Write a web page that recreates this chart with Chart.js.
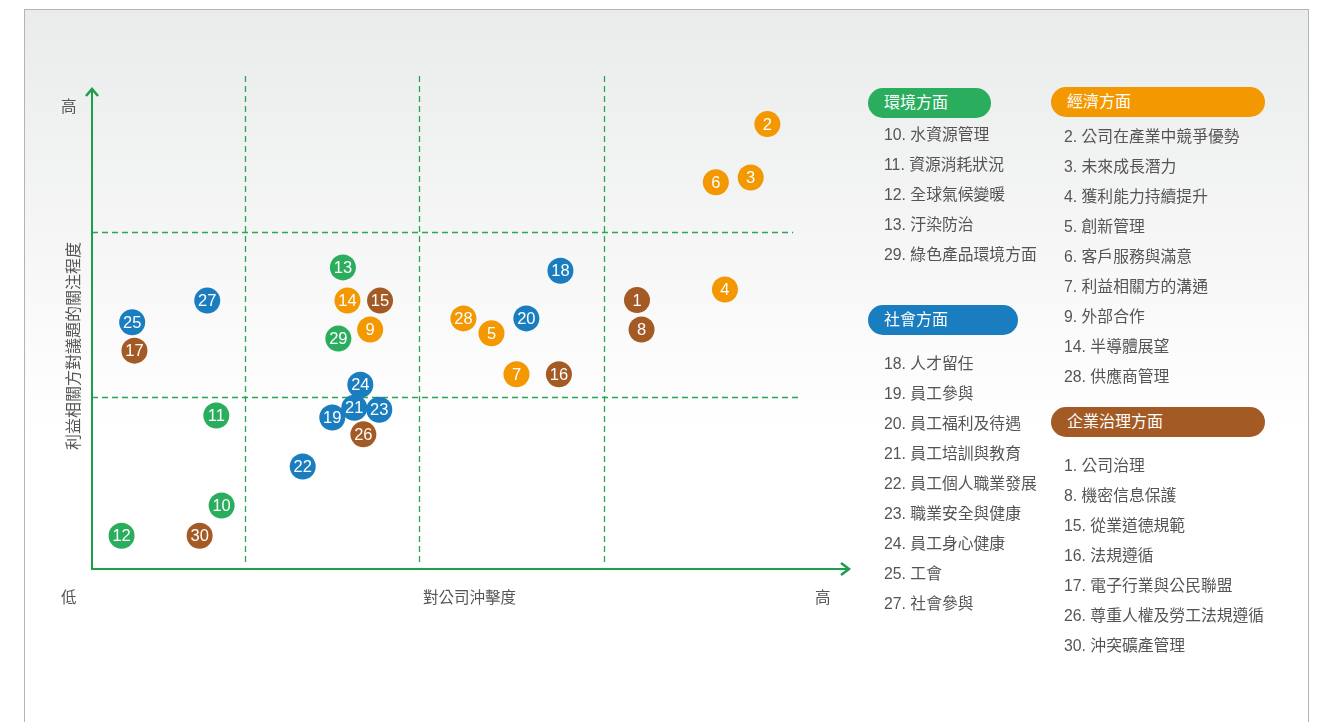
<!DOCTYPE html>
<html>
<head>
<meta charset="utf-8">
<script src="https://cdn.jsdelivr.net/npm/chart.js@4/dist/chart.umd.min.js"></script>
<style>
  body { margin: 0; width: 1322px; height: 722px; overflow: hidden; background: #fff;
         font-family: "Liberation Sans", "Noto Sans CJK TC", sans-serif; }
  #panel { position: absolute; left: 24px; top: 9px; width: 1283px; height: 760px;
           border: 1px solid #b4b4b4; background: linear-gradient(#eaebeb 0, #ffffff 420px); }
  #chart { position: absolute; left: 0; top: 0; }
  .lbl { position: absolute; color: #555; font-size: 15.5px; white-space: nowrap; }
  .pill { position: absolute; height: 30px; border-radius: 15px; color: #fff; font-size: 16px;
          line-height: 30px; padding-left: 16px; box-sizing: border-box; }
  .item { position: absolute; color: #555; font-size: 15.8px; white-space: nowrap; line-height: 18px; }
</style>
</head>
<body>
<div id="panel"></div>
<canvas id="chart" width="1322" height="722"></canvas>
<div id="legend"></div>
<script>
// topic names (numbered issues)
const topicNames = {
    1: '公司治理', 2: '公司在產業中競爭優勢', 3: '未來成長潛力', 4: '獲利能力持續提升',
    5: '創新管理', 6: '客戶服務與滿意', 7: '利益相關方的溝通', 8: '機密信息保護',
    9: '外部合作', 10: '水資源管理', 11: '資源消耗狀況', 12: '全球氣候變暖',
    13: '汙染防治', 14: '半導體展望', 15: '從業道德規範', 16: '法規遵循',
    17: '電子行業與公民聯盟', 18: '人才留任', 19: '員工參與', 20: '員工福利及待遇',
    21: '員工培訓與教育', 22: '員工個人職業發展', 23: '職業安全與健康', 24: '員工身心健康',
    25: '工會', 26: '尊重人權及勞工法規遵循', 27: '社會參與', 28: '供應商管理',
    29: '綠色產品環境方面', 30: '沖突礦產管理'
};

// 環境方面
const envIds = [10, 11, 12, 13, 29];
const envImpact = [17.1, 16.4, 3.9, 33.1, 32.5];
const envConcern = [13.2, 31.9, 6.9, 62.7, 47.9];

// 經濟方面
const econIds = [2, 3, 4, 5, 6, 7, 9, 14, 28];
const econImpact = [89.1, 86.9, 83.5, 52.7, 82.3, 56.0, 36.7, 33.7, 49.0];
const econConcern = [92.5, 81.4, 58.1, 49.0, 80.4, 40.5, 49.8, 55.8, 52.1];

// 社會方面 (listed in drawing order)
const socIds = [18, 19, 20, 22, 24, 25, 27, 21, 23];
const socImpact = [61.8, 31.7, 57.3, 27.8, 35.4, 5.3, 15.2, 34.6, 37.9];
const socConcern = [62.0, 31.5, 52.1, 21.3, 38.3, 51.3, 55.8, 33.5, 33.1];

// 企業治理方面
const govIds = [1, 8, 15, 16, 17, 26, 30];
const govImpact = [71.9, 72.5, 38.0, 61.6, 5.6, 35.8, 14.2];
const govConcern = [55.9, 49.8, 55.8, 40.5, 45.4, 28.0, 6.9];

// quadrant dividers
const xDividers = [20.2, 43.1, 67.5];
const yDividers = [35.8, 70.1];

const colors = { env: '#2aae5e', econ: '#f39800', soc: '#1a7dbf', gov: '#a35a25' };
const axisColor = '#1e9f4c';

function toPoints(ids, xs, ys) {
    return ids.map((id, i) => ({ x: xs[i], y: ys[i], id: id }));
}

// grid + axes behind the points
const quadrantPlugin = {
    id: 'quadrants',
    beforeDatasetsDraw(chart) {
        const { ctx, chartArea: a, scales: { x, y } } = chart;
        ctx.save();
        ctx.strokeStyle = '#2aa556';
        ctx.lineWidth = 1.3;
        ctx.setLineDash([6, 4]);
        xDividers.forEach(v => {
            const px = Math.round(x.getPixelForValue(v)) + 0.5;
            ctx.beginPath();
            ctx.moveTo(px, a.top - 12);
            ctx.lineTo(px, a.bottom - 3);
            ctx.stroke();
        });
        yDividers.forEach((v, i) => {
            const py = Math.round(y.getPixelForValue(v)) + 0.5;
            ctx.beginPath();
            ctx.moveTo(a.left, py);
            ctx.lineTo(x.getPixelForValue(i === 0 ? 93.5 : 92.5), py);
            ctx.stroke();
        });
        ctx.setLineDash([]);

        // axes with arrow heads
        ctx.strokeStyle = axisColor;
        ctx.lineWidth = 2;
        ctx.beginPath();
        ctx.moveTo(a.left, a.top + 1);
        ctx.lineTo(a.left, a.bottom);
        ctx.lineTo(a.right - 1, a.bottom);
        ctx.stroke();
        ctx.lineWidth = 2.5;
        ctx.beginPath();
        ctx.moveTo(a.left - 6, a.top + 8);
        ctx.lineTo(a.left, a.top + 1);
        ctx.lineTo(a.left + 6, a.top + 8);
        ctx.moveTo(a.right - 9, a.bottom - 6);
        ctx.lineTo(a.right - 1, a.bottom);
        ctx.lineTo(a.right - 9, a.bottom + 6);
        ctx.stroke();
        ctx.restore();
    }
};

// number inside every bubble
const numberPlugin = {
    id: 'numbers',
    afterDatasetDraw(chart, args) {
        const { ctx } = chart;
        const meta = args.meta;
        ctx.save();
        ctx.fillStyle = '#fff';
        ctx.font = '16.5px "Liberation Sans", Arial, sans-serif';
        ctx.textAlign = 'center';
        ctx.textBaseline = 'middle';
        meta.data.forEach((el, i) => {
            const d = chart.data.datasets[args.index].data[i];
            ctx.fillText(String(d.id), el.x, el.y + 1);
        });
        ctx.restore();
    }
};

function ds(label, pts, color) {
    return {
        label: label,
        data: pts,
        backgroundColor: color,
        borderColor: color,
        borderWidth: 0,
        pointRadius: 13,
        pointHoverRadius: 13,
        clip: false
    };
}

new Chart(document.getElementById('chart'), {
    type: 'scatter',
    data: {
        datasets: [
            ds('環境方面', toPoints(envIds, envImpact, envConcern), colors.env),
            ds('經濟方面', toPoints(econIds, econImpact, econConcern), colors.econ),
            ds('社會方面', toPoints(socIds, socImpact, socConcern), colors.soc),
            ds('企業治理方面', toPoints(govIds, govImpact, govConcern), colors.gov)
        ]
    },
    options: {
        responsive: false,
        animation: false,
        layout: { padding: { left: 92, right: 472, top: 88, bottom: 153 } },
        plugins: { legend: { display: false }, tooltip: { enabled: false } },
        scales: {
            x: { display: false, min: 0, max: 100 },
            y: { display: false, min: 0, max: 100 }
        }
    },
    plugins: [quadrantPlugin, numberPlugin]
});

// axis words and legend as html text
const legend = document.getElementById('legend');
function addText(cls, text, x, y, extra) {
    const el = document.createElement('div');
    el.className = cls;
    el.textContent = text;
    el.style.left = x + 'px';
    el.style.top = y + 'px';
    if (extra) Object.assign(el.style, extra);
    legend.appendChild(el);
    return el;
}

addText('lbl', '高', 61, 94);
addText('lbl', '低', 61, 585);
addText('lbl', '對公司沖擊度', 423, 585);
addText('lbl', '高', 815, 585);
addText('lbl', '利益相關方對議題的關注程度', 72, 346,
    { fontSize: '16px', transform: 'translate(-50%, -50%) rotate(-90deg)' });

function addGroup(title, ids, color, x, pillY, pillW, firstY, indent) {
    addText('pill', title, x, pillY, { background: color, width: pillW + 'px' });
    [...ids].sort((a, b) => a - b).forEach((id, i) => {
        addText('item', id + '. ' + topicNames[id], x + indent, firstY + i * 30 - 9);
    });
}
addGroup('環境方面', envIds, colors.env, 868, 88, 123, 135, 16);
addGroup('社會方面', socIds, colors.soc, 868, 305, 150, 364, 16);
addGroup('經濟方面', econIds, colors.econ, 1051, 87, 214, 137, 13);
addGroup('企業治理方面', govIds, colors.gov, 1051, 407, 214, 466, 13);
</script>
</body>
</html>
